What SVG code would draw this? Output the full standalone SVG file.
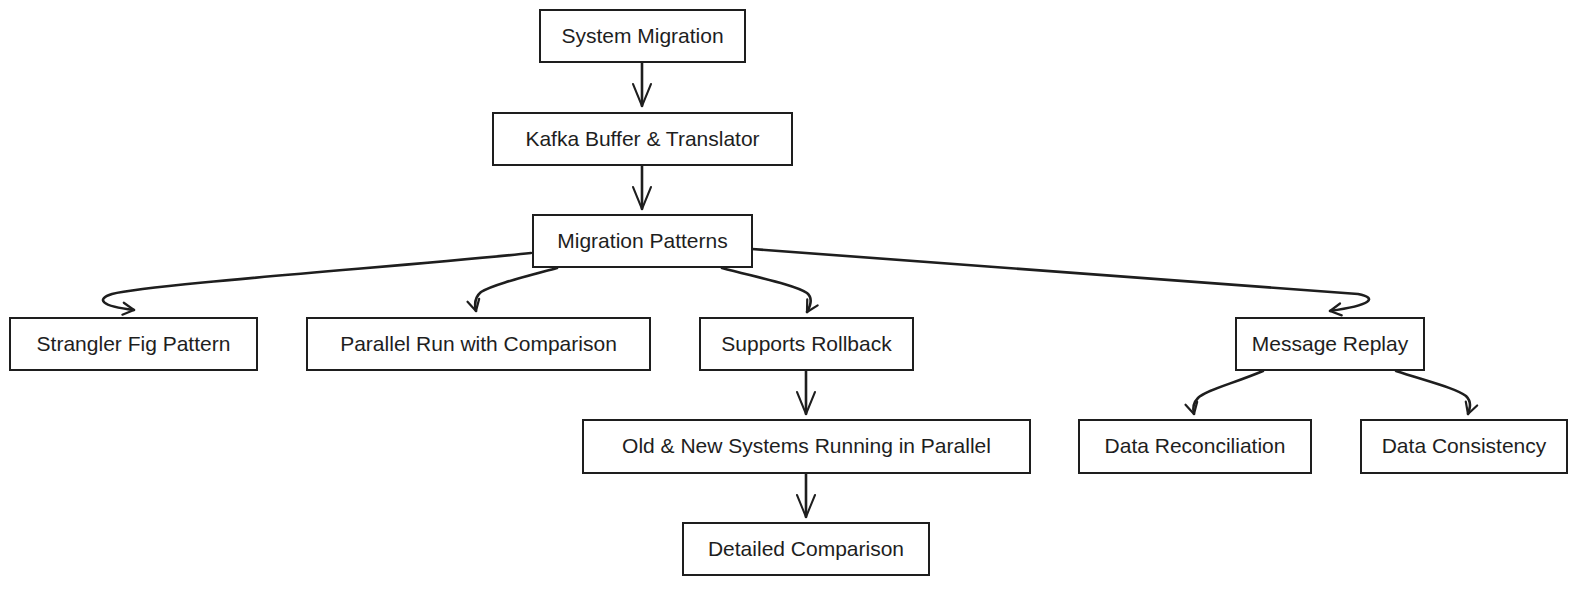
<svg xmlns="http://www.w3.org/2000/svg" width="1577" height="596" viewBox="0 0 1577 596">
<style>
.box{fill:#ffffff;stroke:#1e1e1e;stroke-width:2}
.lbl{font-family:"Liberation Sans",Arial,sans-serif;font-size:21px;fill:#1e1e1e;text-anchor:middle}
.edge{fill:none;stroke:#1e1e1e;stroke-width:2.6;stroke-linecap:round;stroke-linejoin:round}
</style>
<defs>
<marker id="big" markerUnits="userSpaceOnUse" markerWidth="26" markerHeight="22" refX="22" refY="11" orient="auto" overflow="visible">
<path d="M0,2 L22,11 L0,20" fill="none" stroke="#1e1e1e" stroke-width="2" stroke-linecap="round" stroke-linejoin="round"/>
</marker>
<marker id="small" markerUnits="userSpaceOnUse" markerWidth="14" markerHeight="14" refX="11" refY="6" orient="auto" overflow="visible">
<path d="M0,0 L11,6 L0,12" fill="none" stroke="#1e1e1e" stroke-width="2.2" stroke-linecap="round" stroke-linejoin="round"/>
</marker>
</defs>
<rect width="1577" height="596" fill="#ffffff"/>
<g id="connectors">
<path class="edge" d="M642,63 L642,106" marker-end="url(#big)"/>
<path class="edge" d="M642,166 L642,209" marker-end="url(#big)"/>
<path class="edge" d="M531,253 C420,265 150,284 112,294 C96,299 100,306 134,310" marker-end="url(#small)"/>
<path class="edge" d="M557,268 C520,278 492,285 481,292 C475,297 474,303 476,311" marker-end="url(#small)"/>
<path class="edge" d="M722,268 C760,278 795,285 807,293 C813,298 811,305 807,312" marker-end="url(#small)"/>
<path class="edge" d="M752,249 L1358,294 C1378,298 1372,305 1330,311" marker-end="url(#small)"/>
<path class="edge" d="M806,371 L806,414" marker-end="url(#big)"/>
<path class="edge" d="M806,474 L806,517" marker-end="url(#big)"/>
<path class="edge" d="M1263,371 C1232,384 1206,390 1198,398 C1192,404 1193,410 1194,414" marker-end="url(#small)"/>
<path class="edge" d="M1396,371 C1430,382 1455,388 1466,396 C1472,402 1470,408 1468,414" marker-end="url(#small)"/>
</g>
<g id="n-system-migration"><rect class="box" x="540" y="10" width="205" height="52"/><text class="lbl" x="642.5" y="43">System Migration</text></g>
<g id="n-kafka"><rect class="box" x="493" y="113" width="299" height="52"/><text class="lbl" x="642.5" y="146">Kafka Buffer &amp; Translator</text></g>
<g id="n-migration-patterns"><rect class="box" x="533" y="215" width="219" height="52"/><text class="lbl" x="642.5" y="248">Migration Patterns</text></g>
<g id="n-strangler"><rect class="box" x="10" y="318" width="247" height="52"/><text class="lbl" x="133.5" y="351">Strangler Fig Pattern</text></g>
<g id="n-parallel-run"><rect class="box" x="307" y="318" width="343" height="52"/><text class="lbl" x="478.5" y="351">Parallel Run with Comparison</text></g>
<g id="n-supports-rollback"><rect class="box" x="700" y="318" width="213" height="52"/><text class="lbl" x="806.5" y="351">Supports Rollback</text></g>
<g id="n-message-replay"><rect class="box" x="1236" y="318" width="188" height="52"/><text class="lbl" x="1330" y="351">Message Replay</text></g>
<g id="n-old-new"><rect class="box" x="583" y="420" width="447" height="53"/><text class="lbl" x="806.5" y="453">Old &amp; New Systems Running in Parallel</text></g>
<g id="n-data-reconciliation"><rect class="box" x="1079" y="420" width="232" height="53"/><text class="lbl" x="1195" y="453">Data Reconciliation</text></g>
<g id="n-data-consistency"><rect class="box" x="1361" y="420" width="206" height="53"/><text class="lbl" x="1464" y="453">Data Consistency</text></g>
<g id="n-detailed-comparison"><rect class="box" x="683" y="523" width="246" height="52"/><text class="lbl" x="806" y="556">Detailed Comparison</text></g>
</svg>
